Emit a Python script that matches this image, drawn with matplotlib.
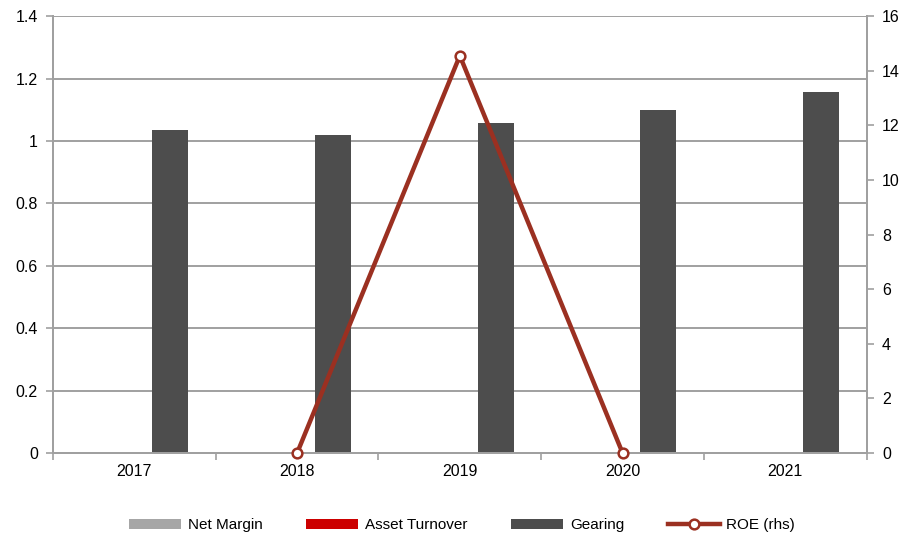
import matplotlib
matplotlib.use("Agg")
import matplotlib.pyplot as plt
import numpy as np

plt.rcParams['font.family'] = ['Liberation Sans', 'DejaVu Sans']

years = ["2017", "2018", "2019", "2020", "2021"]
net_margin = [np.nan, np.nan, np.nan, np.nan, np.nan]
asset_turnover = [np.nan, np.nan, np.nan, np.nan, np.nan]
gearing = [1.035, 1.018, 1.058, 1.098, 1.158]
roe = [np.nan, 0.0, 14.55, 0.0, np.nan]

grid_c = "#A0A0A0"
fig = plt.figure(figsize=(8.99, 5.38), dpi=100)
ax = fig.add_axes([0.059, 0.158, 0.905, 0.812])
ax2 = ax.twinx()

x = np.arange(len(years))
w = 0.22
ax.bar(x - w, net_margin, w, color="#A6A6A6", label="Net Margin", zorder=2)
ax.bar(x, asset_turnover, w, color="#CC0000", label="Asset Turnover", zorder=2)
ax.bar(x + w, gearing, w, color="#4D4D4D", label="Gearing", zorder=2)

ax2.plot(x, roe, color="#9B3021", lw=3.2, marker="o", ms=7, mfc="white",
         mec="#9B3021", mew=1.8, label="ROE (rhs)", clip_on=False, zorder=5)

ax.set_xlim(-0.5, 4.5)
ax.set_ylim(0, 1.4)
ax.set_yticks(np.arange(0, 1.41, 0.2))
ax.set_yticklabels(["0", "0.2", "0.4", "0.6", "0.8", "1", "1.2", "1.4"])
ax2.set_ylim(0, 16)
ax2.set_yticks(np.arange(0, 17, 2))

ax.set_xticks(x)
ax.set_xticklabels(years)
ax.set_xticks(np.arange(-0.5, 4.6, 1), minor=True)
ax.tick_params(axis="x", which="major", length=0, pad=8, labelsize=11.5)
ax.tick_params(axis="x", which="minor", length=5, color=grid_c, width=1.2)
ax.tick_params(axis="y", length=5, color=grid_c, width=1.2, labelsize=11.5, pad=6)
ax2.tick_params(axis="y", length=5, color=grid_c, width=1.2, labelsize=11.5, pad=6)

ax.grid(axis="y", color=grid_c, lw=1.4, zorder=0)
ax.set_axisbelow(True)
for a in (ax, ax2):
    a.spines["top"].set_visible(False)
    for s in ("left", "right", "bottom"):
        a.spines[s].set_color(grid_c)
        a.spines[s].set_linewidth(1.4)

h1, l1 = ax.get_legend_handles_labels()
h2, l2 = ax2.get_legend_handles_labels()
leg = fig.legend(h1 + h2, l1 + l2, loc="lower center", ncol=4, frameon=False,
                 bbox_to_anchor=(0.514, -0.015), fontsize=11, handlelength=3.4,
                 handleheight=0.55, columnspacing=2.85, handletextpad=0.45)

fig.savefig("out.png", dpi=100)
